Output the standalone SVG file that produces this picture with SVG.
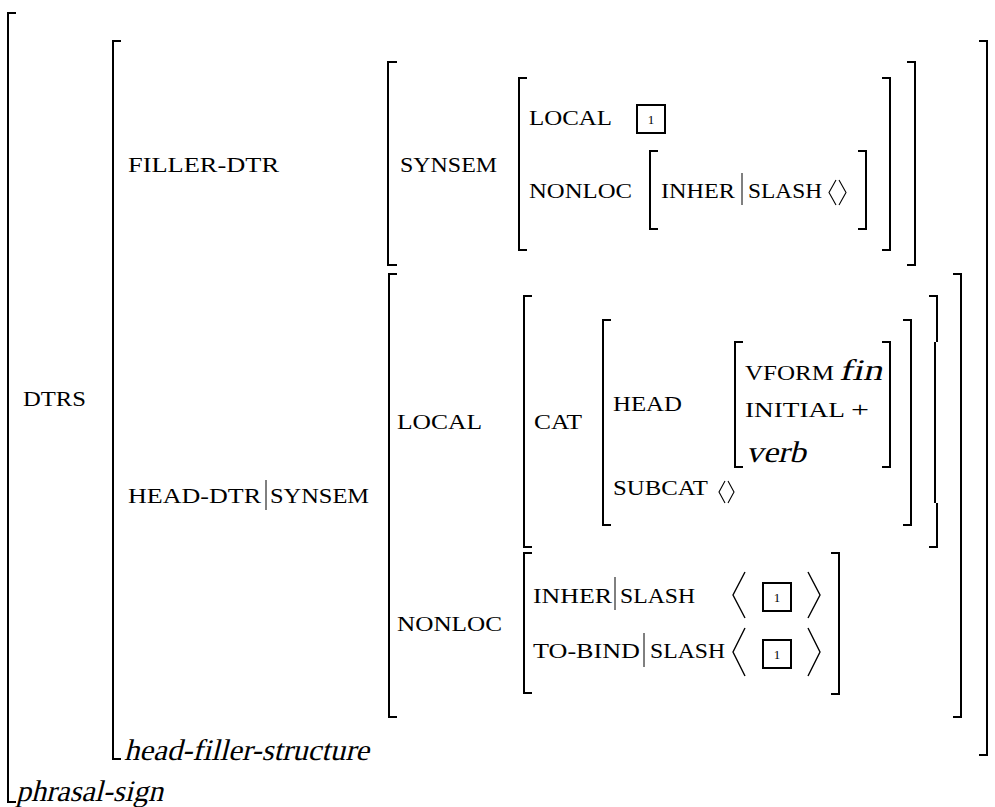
<svg xmlns="http://www.w3.org/2000/svg" width="995" height="807" viewBox="0 0 995 807">
<style>
  .br { fill: none; stroke: #000; stroke-width: 2; stroke-linejoin: miter; }
  .bar { fill: none; stroke: #000; stroke-width: 1; }
  .ang { fill: none; stroke: #000; stroke-width: 1.4; stroke-linejoin: miter; }
  .angs { fill: none; stroke: #000; stroke-width: 1.1; }
  .tag { fill: #fff; stroke: #000; stroke-width: 2; }
  .sc { font-family: "Liberation Serif", "Times New Roman", serif; font-size: 22px; fill: #000; }
  .it { font-family: "Liberation Serif", "Times New Roman", serif; font-size: 30px; fill: #000; }
  .num { font-family: "Liberation Serif", "Times New Roman", serif; font-size: 13px; fill: #000; text-anchor: middle; }
</style>
<rect width="995" height="807" fill="#fff"/>

<g id="brackets">
  <!-- outer phrasal-sign -->
  <path class="br" d="M16,13 H8 V802 H16"/>
  <!-- DTRS value -->
  <path class="br" d="M121,41 H113 V759 H121"/>
  <path class="br" d="M979,41 H987 V755 H979"/>
  <!-- FILLER-DTR value -->
  <path class="br" d="M397,62 H388 V265 H397"/>
  <path class="br" d="M907,62 H915 V265 H907"/>
  <!-- SYNSEM value -->
  <path class="br" d="M527,78 H519 V250 H527"/>
  <path class="br" d="M882,78 H890 V250 H882"/>
  <!-- NONLOC (filler) value -->
  <path class="br" d="M658,151 H650 V229 H658"/>
  <path class="br" d="M858,151 H866 V229 H858"/>
  <!-- HEAD-DTR|SYNSEM value -->
  <path class="br" d="M397,274 H389 V717 H397"/>
  <path class="br" d="M953,274 H961 V717 H953"/>
  <!-- LOCAL value -->
  <path class="br" d="M532,296 H524 V547 H532"/>
  <path class="br" d="M929,296 H937 V342 M935,342 V503 M937,503 V547 H929"/>
  <!-- CAT value -->
  <path class="br" d="M611,320 H603 V525 H611"/>
  <path class="br" d="M903,320 H911 V525 H903"/>
  <!-- HEAD value -->
  <path class="br" d="M743,342 H735 V467 H743"/>
  <path class="br" d="M882,342 H890 V467 H882"/>
  <!-- NONLOC (head) value -->
  <path class="br" d="M532,553 H524 V693 H532"/>
  <path class="br" d="M831,553 H839 V694 H831"/>
</g>

<g id="phrasal-sign">
  <text class="it" transform="translate(16,801) skewX(-14)" x="0" y="0" textLength="147" lengthAdjust="spacingAndGlyphs">phrasal-sign</text>
  <text class="sc" x="23" y="406" textLength="63" lengthAdjust="spacingAndGlyphs">DTRS</text>
</g>

<g id="head-filler-structure">
  <text class="it" transform="translate(124,760) skewX(-14)" x="0" y="0" textLength="245" lengthAdjust="spacingAndGlyphs">head-filler-structure</text>
  <text class="sc" x="128" y="172" textLength="151" lengthAdjust="spacingAndGlyphs">FILLER-DTR</text>
  <text class="sc" x="128" y="503" textLength="133" lengthAdjust="spacingAndGlyphs">HEAD-DTR</text>
  <line class="bar" x1="266" y1="480" x2="266" y2="510"/>
  <text class="sc" x="270" y="503" textLength="99" lengthAdjust="spacingAndGlyphs">SYNSEM</text>
</g>

<g id="filler-dtr">
  <text class="sc" x="400" y="172" textLength="97" lengthAdjust="spacingAndGlyphs">SYNSEM</text>
  <text class="sc" x="529" y="125" textLength="83" lengthAdjust="spacingAndGlyphs">LOCAL</text>
  <rect class="tag" x="637" y="105" width="28" height="28"/>
  <text class="num" x="651" y="123.5">1</text>
  <text class="sc" x="529" y="198" textLength="103" lengthAdjust="spacingAndGlyphs">NONLOC</text>
  <text class="sc" x="661" y="198" textLength="74" lengthAdjust="spacingAndGlyphs">INHER</text>
  <line class="bar" x1="742" y1="173" x2="742" y2="205"/>
  <text class="sc" x="748" y="198" textLength="74" lengthAdjust="spacingAndGlyphs">SLASH</text>
  <polyline class="angs" points="836,180 829,192.5 836,205"/>
  <polyline class="angs" points="839,180 846,192.5 839,205"/>
</g>

<g id="head-dtr-local">
  <text class="sc" x="397" y="429" textLength="85" lengthAdjust="spacingAndGlyphs">LOCAL</text>
  <text class="sc" x="534" y="429" textLength="48" lengthAdjust="spacingAndGlyphs">CAT</text>
  <text class="sc" x="613" y="411" textLength="69" lengthAdjust="spacingAndGlyphs">HEAD</text>
  <text class="sc" x="613" y="495" textLength="95" lengthAdjust="spacingAndGlyphs">SUBCAT</text>
  <polyline class="angs" points="725,481 719,492 725,503"/>
  <polyline class="angs" points="728,481 734,492 728,503"/>
  <text class="sc" x="745" y="380" textLength="89" lengthAdjust="spacingAndGlyphs">VFORM</text>
  <text class="it" transform="translate(839,380) skewX(-14)" x="0" y="0" textLength="43" lengthAdjust="spacingAndGlyphs">fin</text>
  <text class="sc" x="745" y="417" textLength="100" lengthAdjust="spacingAndGlyphs">INITIAL</text>
  <text class="sc" x="851" y="417" textLength="18" lengthAdjust="spacingAndGlyphs">+</text>
  <text class="it" transform="translate(746,462) skewX(-14)" x="0" y="0" textLength="60" lengthAdjust="spacingAndGlyphs">verb</text>
</g>

<g id="head-dtr-nonloc">
  <text class="sc" x="397" y="631" textLength="105" lengthAdjust="spacingAndGlyphs">NONLOC</text>
  <text class="sc" x="533" y="603" textLength="79" lengthAdjust="spacingAndGlyphs">INHER</text>
  <line class="bar" x1="615" y1="577" x2="615" y2="610"/>
  <text class="sc" x="620" y="603" textLength="75" lengthAdjust="spacingAndGlyphs">SLASH</text>
  <polyline class="ang" points="745,572 733,595 745,618"/>
  <rect class="tag" x="763" y="583" width="28" height="28"/>
  <text class="num" x="777" y="601.5">1</text>
  <polyline class="ang" points="808,572 820,595 808,618"/>
  <text class="sc" x="533" y="658" textLength="107" lengthAdjust="spacingAndGlyphs">TO-BIND</text>
  <line class="bar" x1="644" y1="633" x2="644" y2="667"/>
  <text class="sc" x="650" y="658" textLength="75" lengthAdjust="spacingAndGlyphs">SLASH</text>
  <polyline class="ang" points="745,628 733,652 745,676"/>
  <rect class="tag" x="763" y="640" width="28" height="28"/>
  <text class="num" x="777" y="658.5">1</text>
  <polyline class="ang" points="808,628 820,652 808,676"/>
</g>
</svg>
